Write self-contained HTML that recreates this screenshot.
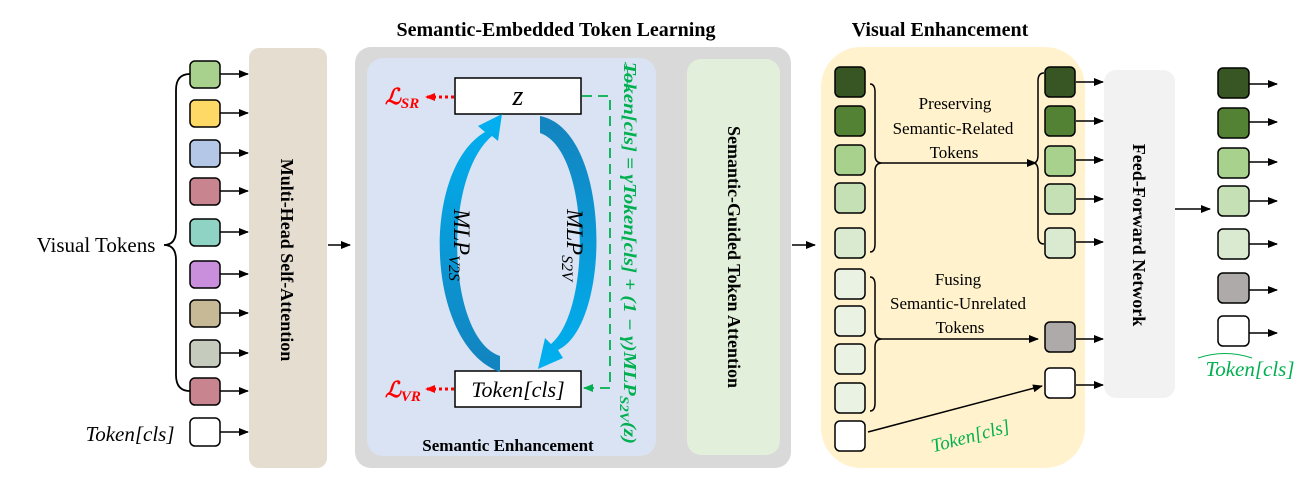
<!DOCTYPE html>
<html><head><meta charset="utf-8"><style>
html,body{margin:0;padding:0;background:#fff;}
svg{display:block;}
text{font-family:"Liberation Serif",serif;}
</style></head><body>
<svg width="1306" height="478" viewBox="0 0 1306 478" xmlns="http://www.w3.org/2000/svg">
<defs>
<marker id="ah" markerWidth="10" markerHeight="8" refX="9" refY="4" orient="auto" markerUnits="userSpaceOnUse"><path d="M0,0 L10,4 L0,8 Z" fill="#000"/></marker>
<marker id="ahr" markerWidth="10" markerHeight="8" refX="9" refY="4" orient="auto" markerUnits="userSpaceOnUse"><path d="M0,0 L10,4 L0,8 Z" fill="#f00"/></marker>
<marker id="ahg" markerWidth="10" markerHeight="8" refX="9" refY="4" orient="auto" markerUnits="userSpaceOnUse"><path d="M0,0 L10,4 L0,8 Z" fill="#00b050"/></marker>
<linearGradient id="gl" x1="0" y1="1" x2="0" y2="0"><stop offset="0" stop-color="#1383be"/><stop offset="1" stop-color="#00b0f0"/></linearGradient>
<linearGradient id="gr" x1="0" y1="0" x2="0" y2="1"><stop offset="0" stop-color="#1383be"/><stop offset="1" stop-color="#00b0f0"/></linearGradient>
</defs>

<g stroke="#000" stroke-width="1.5">
<rect x="190" y="61" width="30" height="27" rx="5" fill="#a9d18e"/>
<rect x="190" y="100" width="30" height="27" rx="5" fill="#ffd966"/>
<rect x="190" y="140" width="30" height="27" rx="5" fill="#b4c7e7"/>
<rect x="190" y="178" width="30" height="27" rx="5" fill="#c9858f"/>
<rect x="190" y="219" width="30" height="27" rx="5" fill="#8fd3c4"/>
<rect x="190" y="261" width="30" height="27" rx="5" fill="#c98fdc"/>
<rect x="190" y="300" width="30" height="27" rx="5" fill="#c8b996"/>
<rect x="190" y="340" width="30" height="27" rx="5" fill="#c5cbbd"/>
<rect x="190" y="378" width="30" height="27" rx="5" fill="#c9858f"/>
<rect x="190" y="418" width="30" height="28" rx="5" fill="#fff"/>
</g>
<g stroke="#000" stroke-width="1.5" marker-end="url(#ah)">
<line x1="220" y1="74" x2="248" y2="74"/><line x1="220" y1="113" x2="248" y2="113"/>
<line x1="220" y1="153" x2="248" y2="153"/><line x1="220" y1="191" x2="248" y2="191"/>
<line x1="220" y1="232" x2="248" y2="232"/><line x1="220" y1="274" x2="248" y2="274"/>
<line x1="220" y1="313" x2="248" y2="313"/><line x1="220" y1="353" x2="248" y2="353"/>
<line x1="220" y1="391" x2="248" y2="391"/><line x1="220" y1="432" x2="248" y2="432"/>
</g>
<path d="M190,74 Q176,74 176,90 L176,230 Q176,245 164,245 Q176,245 176,260 L176,375 Q176,391 190,391" fill="none" stroke="#000" stroke-width="1.8"/>
<text x="96" y="252" font-size="21" text-anchor="middle">Visual Tokens</text>
<text x="130" y="441" font-size="21" font-style="italic" text-anchor="middle">Token[cls]</text>

<rect x="249" y="48" width="78" height="420" rx="10" fill="#e4ddd0"/>
<text transform="translate(281,260) rotate(90)" font-size="18" font-weight="bold" text-anchor="middle">Multi-Head Self-Attention</text>
<line x1="328" y1="245" x2="350" y2="245" stroke="#000" stroke-width="1.5" marker-end="url(#ah)"/>

<text x="556" y="36" font-size="20" font-weight="bold" text-anchor="middle">Semantic-Embedded Token Learning</text>
<rect x="355" y="47" width="436" height="421" rx="16" fill="#d9d9d9"/>
<rect x="367" y="58" width="289" height="398" rx="16" fill="#dae3f3"/>
<rect x="687" y="59" width="93" height="396" rx="14" fill="#e2efda"/>
<text transform="translate(728,257) rotate(90)" font-size="18" font-weight="bold" text-anchor="middle">Semantic-Guided Token Attention</text>

<rect x="455" y="78" width="126" height="36" fill="#fff" stroke="#000" stroke-width="1.5"/>
<text x="518" y="105" font-size="28" font-style="italic" text-anchor="middle">z</text>
<rect x="455" y="371" width="126" height="36" fill="#fff" stroke="#000" stroke-width="1.5"/>
<text x="518" y="397" font-size="22" font-style="italic" text-anchor="middle">Token[cls]</text>

<line x1="454" y1="97" x2="426" y2="97" stroke="#f00" stroke-width="3" stroke-dasharray="3,3" marker-end="url(#ahr)"/>
<line x1="454" y1="389" x2="426" y2="389" stroke="#f00" stroke-width="3" stroke-dasharray="3,3" marker-end="url(#ahr)"/>
<text x="385" y="104" font-size="22" fill="#f00" font-weight="bold" font-style="italic">ℒ<tspan font-size="15" dy="4">SR</tspan></text>
<text x="385" y="397" font-size="22" fill="#f00" font-weight="bold" font-style="italic">ℒ<tspan font-size="15" dy="4">VR</tspan></text>

<path d="M500,372 C425,345 420,170 485,132 L478,126 L502,114 L498,141 L492,136 C442,178 447,338 500,356 Z" fill="url(#gl)"/>
<path d="M540,116 C612,130 612,325 558,350 L563,358 L538,369 L545,338 L551,344 C592,310 590,150 540,133 Z" fill="url(#gr)"/>
<text transform="translate(454,245) rotate(90)" font-size="23" font-style="italic" text-anchor="middle">MLP<tspan font-size="16" dy="5">V2S</tspan></text>
<text transform="translate(567,245) rotate(90)" font-size="23" font-style="italic" text-anchor="middle">MLP<tspan font-size="16" dy="5">S2V</tspan></text>

<path d="M582,96 L610,96 L610,388 L584,388" fill="none" stroke="#00b050" stroke-width="1.8" stroke-dasharray="10,6" marker-end="url(#ahg)"/>
<text transform="translate(624,62) rotate(90)" font-size="18" fill="#00b050" font-weight="bold" font-style="italic" textLength="382" lengthAdjust="spacingAndGlyphs">Token[cls] = γToken[cls] + (1 − γ)MLP<tspan font-size="13" dy="4">S2V</tspan><tspan dy="-4">(z)</tspan></text>
<path d="M625,62 Q630,72 626,90" fill="none" stroke="#00b050" stroke-width="1"/>
<text x="508" y="451" font-size="17" font-weight="bold" text-anchor="middle">Semantic Enhancement</text>

<line x1="792" y1="245" x2="815" y2="245" stroke="#000" stroke-width="1.5" marker-end="url(#ah)"/>

<text x="940" y="36" font-size="20" font-weight="bold" text-anchor="middle">Visual Enhancement</text>
<rect x="821" y="47" width="264" height="421" rx="40" fill="#fff2cc"/>
<g stroke="#000" stroke-width="1.5">
<rect x="835" y="67" width="30" height="30" rx="5" fill="#375623"/>
<rect x="835" y="106" width="30" height="30" rx="5" fill="#548235"/>
<rect x="835" y="145" width="30" height="30" rx="5" fill="#a9d18e"/>
<rect x="835" y="183" width="30" height="30" rx="5" fill="#c5e0b4"/>
<rect x="835" y="228" width="30" height="30" rx="5" fill="#d9ead0"/>
<rect x="835" y="269" width="30" height="30" rx="5" fill="#eaf3e3"/>
<rect x="835" y="306" width="30" height="30" rx="5" fill="#eaf3e3"/>
<rect x="835" y="344" width="30" height="30" rx="5" fill="#eaf3e3"/>
<rect x="835" y="383" width="30" height="30" rx="5" fill="#eaf3e3"/>
<rect x="835" y="421" width="30" height="30" rx="5" fill="#fff"/>
<rect x="1045" y="67" width="30" height="30" rx="5" fill="#375623"/>
<rect x="1045" y="106" width="30" height="30" rx="5" fill="#548235"/>
<rect x="1045" y="146" width="30" height="30" rx="5" fill="#a9d18e"/>
<rect x="1045" y="184" width="30" height="30" rx="5" fill="#c5e0b4"/>
<rect x="1045" y="228" width="30" height="30" rx="5" fill="#d9ead0"/>
<rect x="1045" y="322" width="30" height="30" rx="5" fill="#aeaaaa"/>
<rect x="1045" y="368" width="30" height="30" rx="5" fill="#fff"/>
</g>
<g fill="none" stroke="#000" stroke-width="1.5">
<path d="M870,84 Q875,84 875,92 L875,155 Q875,163 882,163 Q875,163 875,171 L875,244 Q875,252 870,252"/>
<path d="M1044,73 Q1038,73 1038,81 L1038,155 Q1038,163 1033,163 Q1038,163 1038,171 L1038,236 Q1038,244 1044,244"/>
<path d="M870,277 Q875,277 875,285 L875,331 Q875,339 882,339 Q875,339 875,347 L875,403 Q875,411 870,411"/>
</g>
<g stroke="#000" stroke-width="1.5" marker-end="url(#ah)">
<line x1="882" y1="163" x2="1036" y2="163"/>
<line x1="882" y1="339" x2="1038" y2="339"/>
<line x1="868" y1="432" x2="1042" y2="386"/>
<line x1="1076" y1="82" x2="1103" y2="82"/><line x1="1076" y1="121" x2="1103" y2="121"/>
<line x1="1076" y1="160" x2="1103" y2="160"/><line x1="1076" y1="199" x2="1103" y2="199"/>
<line x1="1076" y1="242" x2="1103" y2="242"/><line x1="1076" y1="339" x2="1103" y2="339"/>
<line x1="1076" y1="385" x2="1103" y2="385"/>
</g>
<g font-size="17" text-anchor="middle">
<text x="955" y="109">Preserving</text>
<text x="953" y="134">Semantic-Related</text>
<text x="954" y="158">Tokens</text>
<text x="958" y="285">Fusing</text>
<text x="958" y="309">Semantic-Unrelated</text>
<text x="960" y="333">Tokens</text>
</g>
<text transform="translate(972,442) rotate(-15)" font-size="19" fill="#00b050" font-style="italic" text-anchor="middle">Token[cls]</text>

<rect x="1104" y="70" width="71" height="328" rx="12" fill="#f2f2f2"/>
<text transform="translate(1133,235) rotate(90)" font-size="18" font-weight="bold" text-anchor="middle">Feed-Forward Network</text>
<line x1="1175" y1="209" x2="1210" y2="209" stroke="#000" stroke-width="1.5" marker-end="url(#ah)"/>

<g stroke="#000" stroke-width="1.5">
<rect x="1218" y="68" width="31" height="30" rx="5" fill="#375623"/>
<rect x="1218" y="108" width="31" height="30" rx="5" fill="#548235"/>
<rect x="1218" y="148" width="31" height="30" rx="5" fill="#a9d18e"/>
<rect x="1218" y="186" width="31" height="30" rx="5" fill="#c5e0b4"/>
<rect x="1218" y="229" width="31" height="30" rx="5" fill="#d9ead0"/>
<rect x="1218" y="273" width="31" height="30" rx="5" fill="#aeaaaa"/>
<rect x="1218" y="316" width="31" height="30" rx="5" fill="#fff"/>
</g>
<g stroke="#000" stroke-width="1.5" marker-end="url(#ah)">
<line x1="1249" y1="84" x2="1277" y2="84"/><line x1="1249" y1="122" x2="1277" y2="122"/>
<line x1="1249" y1="162" x2="1277" y2="162"/><line x1="1249" y1="201" x2="1277" y2="201"/>
<line x1="1249" y1="244" x2="1277" y2="244"/><line x1="1249" y1="290" x2="1277" y2="290"/>
<line x1="1249" y1="333" x2="1277" y2="333"/>
</g>
<text x="1250" y="376" font-size="21" fill="#00b050" font-style="italic" text-anchor="middle">Token[cls]</text>
<path d="M1198,358 Q1225,349 1252,358" fill="none" stroke="#00b050" stroke-width="1"/>
</svg>
</body></html>
